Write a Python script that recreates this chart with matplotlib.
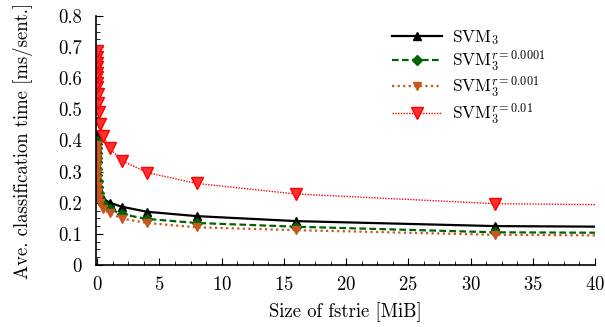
import matplotlib
matplotlib.use("Agg")
import matplotlib.pyplot as plt
from matplotlib.ticker import MultipleLocator

plt.rcParams['font.family'] = 'serif'
plt.rcParams['font.serif'] = ['cmr10', 'DejaVu Serif']
plt.rcParams['mathtext.fontset'] = 'cm'
plt.rcParams['axes.formatter.use_mathtext'] = True

# sizes in MiB (halving)
sizes = [64, 32, 16, 8, 4, 2, 1, 0.5, 0.25, 0.125, 0.0625, 0.03125,
         0.015625, 0.0078125, 0.00390625, 0.001953125, 0.0009765625,
         0.00048828125, 0.000244140625, 0.0001220703125]

svm3 = [0.118, 0.125, 0.141, 0.157, 0.171, 0.187, 0.200, 0.213, 0.228, 0.245,
        0.262, 0.28, 0.30, 0.32, 0.34, 0.36, 0.375, 0.39, 0.405, 0.42]
svm_r0001 = [0.100, 0.105, 0.123, 0.135, 0.148, 0.163, 0.180, 0.195, 0.212, 0.23,
             0.25, 0.27, 0.29, 0.31, 0.33, 0.345, 0.36, 0.375, 0.39, 0.40]
svm_r001 = [0.090, 0.097, 0.112, 0.121, 0.135, 0.149, 0.166, 0.180, 0.198, 0.215,
            0.235, 0.255, 0.275, 0.295, 0.315, 0.33, 0.345, 0.36, 0.373, 0.385]
svm_r01 = [0.185, 0.197, 0.228, 0.262, 0.297, 0.335, 0.375, 0.413, 0.453, 0.49,
           0.52, 0.55, 0.571, 0.586, 0.603, 0.618, 0.635, 0.65, 0.669, 0.688]

labels = [r"SVM$_3$", r"SVM$_3^{r=0.0001}$", r"SVM$_3^{r=0.001}$", r"SVM$_3^{r=0.01}$"]

fig = plt.figure(figsize=(6.05, 3.27), dpi=100)
ax = fig.add_axes([96/605, 1-265/327, (595-96)/605, (265-16)/327])

ax.plot(sizes, svm3, color='black', lw=1.6, ls='-', marker='^', ms=6, label=labels[0])
ax.plot(sizes, svm_r0001, color='#006400', lw=1.6, ls=(0, (3, 1.5)), marker='D', ms=5, label=labels[1])
ax.plot(sizes, svm_r001, color='#c8561e', lw=1.6, ls=(0, (1, 1.5)), marker='v', ms=6, label=labels[2])
ax.plot(sizes, svm_r01, color='#ff0000', lw=1.0, ls=(0, (1, 1)), marker='v', ms=9,
        markerfacecolor='#ff3030', markeredgecolor='#ff0000', label=labels[3])

ax.set_xlim(-0.1, 40)
ax.set_ylim(0, 0.8)
ax.xaxis.set_major_locator(MultipleLocator(5))
ax.xaxis.set_minor_locator(MultipleLocator(1.25))
ax.yaxis.set_major_locator(MultipleLocator(0.1))
ax.yaxis.set_minor_locator(MultipleLocator(0.025))
ax.yaxis.set_major_formatter(plt.FuncFormatter(lambda v, p: '0' if abs(v) < 1e-9 else f'{v:.1f}'))
for s in ['top', 'right']:
    ax.spines[s].set_visible(False)
ax.spines['left'].set_linewidth(1.2)
ax.spines['bottom'].set_linewidth(1.2)
ax.tick_params(which='both', direction='in', top=False, right=False, labelsize=13.5)
ax.tick_params(which='major', length=5)
ax.tick_params(which='minor', length=3)
ax.tick_params(axis='y', pad=10)
ax.tick_params(axis='x', pad=8)
ax.set_xlabel("Size of fstrie [MiB]", fontsize=13.5, labelpad=6)
ax.set_ylabel("Ave. classification time [ms/sent.]", fontsize=13.5, labelpad=18)

leg = ax.legend(loc='upper left', bbox_to_anchor=(376/605, 1-12/327), bbox_transform=fig.transFigure,
                frameon=False, fontsize=12.5, handlelength=2.9, handletextpad=0.6, labelspacing=0.1)

fig.savefig("out.png", dpi=100)
